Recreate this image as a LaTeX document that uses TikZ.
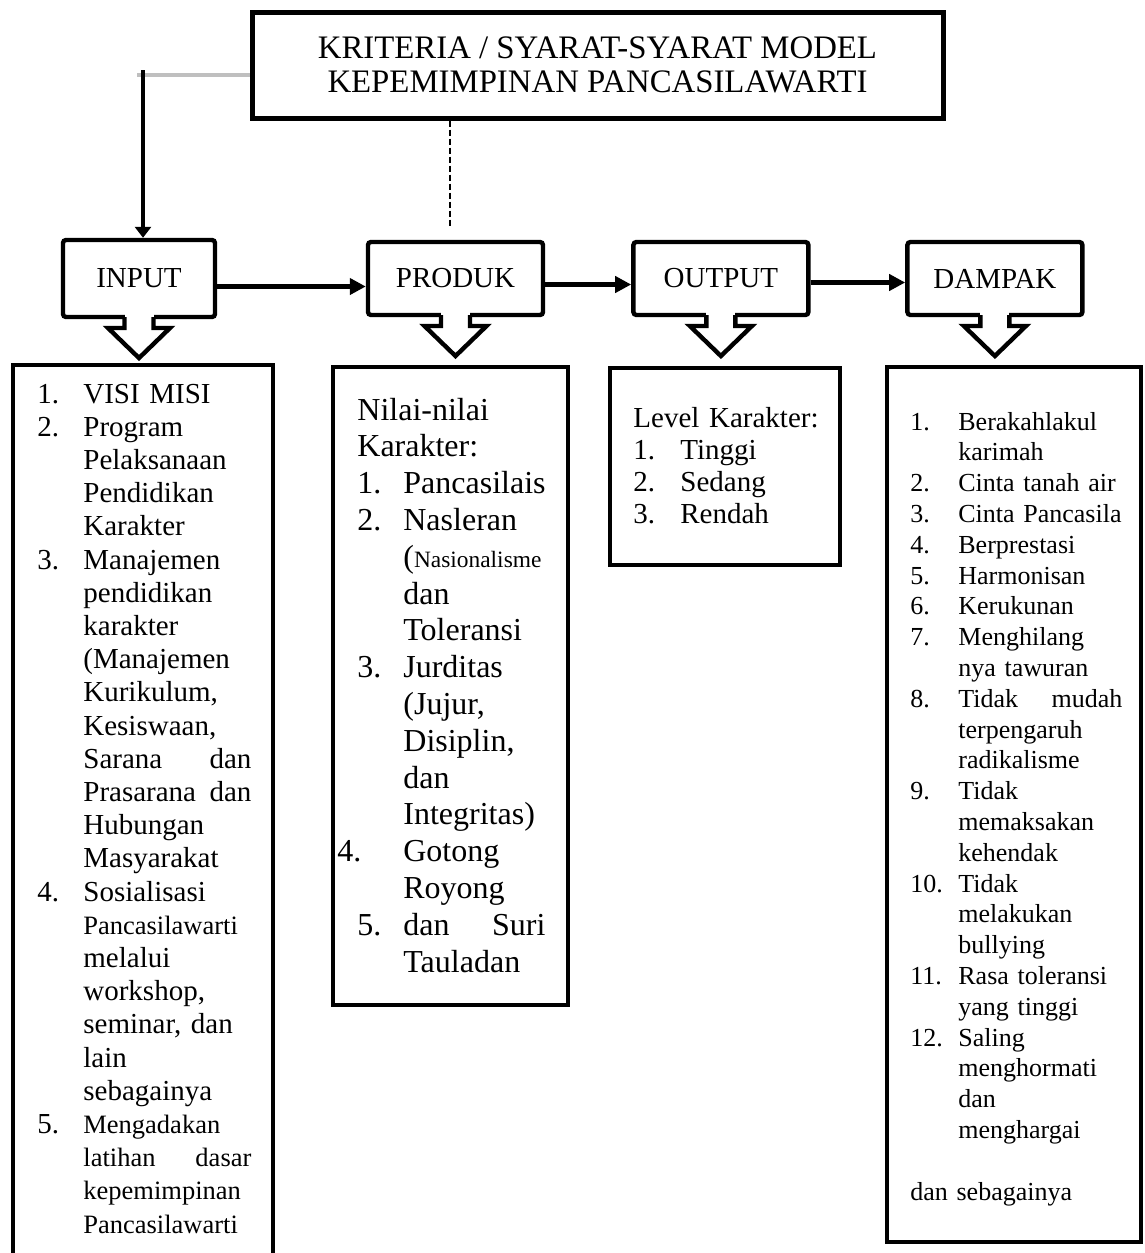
\documentclass[tikz,border=0pt]{standalone}
\usepackage{fontspec}
\setmainfont{Liberation Serif}
\usetikzlibrary{positioning,arrows.meta}

\newlength\numwd
\newlength\colwd
\newcommand\itemline[2]{\makebox[\numwd][l]{#1}#2}
\newcommand\contline[1]{\hspace*{\numwd}#1}
\newcommand\fullline[2]{\hspace*{\numwd}\makebox[\colwd][l]{#1\hfill#2}}
\newcommand\smallsize{\fontsize{13.25pt}{15pt}\selectfont}
\newcommand\dropdown[1]{%
  \fill[white] ([xshift=-7.25pt,yshift=2.6pt]#1.south) rectangle ([xshift=7.25pt,yshift=-5pt]#1.south);
  \draw[line width=2.2pt] ([xshift=-7.25pt,yshift=1.1pt]#1.south) -- ++(0,11) -- ++(-16.5,0)
    -- ++(31,30) -- ++(31,-30) -- ++(-16.5,0) -- ++(0,-11);}

\tikzset{
  topbox/.style={draw, line width=2.2pt, rounded corners=1.5pt, inner sep=0pt,
    minimum width=87.5pt, minimum height=36.5pt, font=\fontsize{14.5pt}{17pt}\selectfont},
  listbox/.style={draw, line width=2.3pt, inner sep=0pt, outer sep=0pt, anchor=north west},
  listtext/.style={anchor=base west, inner sep=0pt, align=left},
  flow/.style={line width=2.5pt, -{Triangle[length=8pt,width=8pt]}}
}

\begin{document}
\begin{tikzpicture}[x=0.5pt,y=-0.5pt]
        \useasboundingbox (0,0) rectangle (1145,1253);
        \node[draw, line width=2.5pt, minimum width=345.5pt, minimum height=53pt, align=center,
          font=\fontsize{16.4pt}{17pt}\selectfont] (title) at (597.5,65)
          {KRITERIA / SYARAT-SYARAT MODEL\\KEPEMIMPINAN PANCASILAWARTI};
        \node[topbox, minimum width=76pt, minimum height=38.5pt] (input) at (139,278.5) {INPUT};
        \node[topbox, right=74.3pt of input] (produk) {PRODUK};
        \node[topbox, right=43pt of produk] (output) {OUTPUT};
        \node[topbox, right=47.3pt of output] (dampak) {DAMPAK};
        \coordinate (bend) at (143,75);
        \coordinate (dashend) at (450,227);
        \draw[gray!50, line width=1.6pt] (title.west |- bend) -- ([xshift=-3pt]bend);
        \draw[line width=2pt, -{Triangle[length=5.5pt,width=8pt]}] ([yshift=2.5pt]bend) -- (bend |- input.north);
        \draw[line width=0.6pt, dash pattern=on 3pt off 1.5pt] (title.south -| dashend) -- (dashend);
        \draw[flow] ([yshift=-4pt]input.east) -- ([yshift=-4pt]produk.west);
        \draw[flow] ([yshift=-3pt]produk.east) -- ([yshift=-3pt]output.west);
        \draw[flow] ([yshift=-2pt]output.east) -- ([yshift=-2pt]dampak.west);
        \dropdown{input}
        \dropdown{produk}
        \dropdown{output}
        \dropdown{dampak}
        \node[listbox, minimum width=130pt, minimum height=450pt] (inputbox) at (13,365) {};
        \node[listbox, minimum width=117.5pt, minimum height=319pt] (produkbox) at (333,367) {};
        \node[listbox, minimum width=115pt, minimum height=98.5pt] (outputbox) at (610,368) {};
        \node[listbox, minimum width=127pt, minimum height=437.5pt] (dampakbox) at (887,367) {};
        \node[listtext, text width=112pt, font=\fontsize{14.5pt}{16.6pt}\selectfont] (inputlist) at (37,403)
          {\setlength\numwd{23pt}\setlength\colwd{84pt}%
          \itemline{1.}{VISI MISI}\\
          \itemline{2.}{Program}\\
          \contline{Pelaksanaan}\\
          \contline{Pendidikan}\\
          \contline{Karakter}\\
          \itemline{3.}{Manajemen}\\
          \contline{pendidikan}\\
          \contline{karakter}\\
          \contline{(Manajemen}\\
          \contline{Kurikulum,}\\
          \contline{Kesiswaan,}\\
          \fullline{Sarana}{dan}\\
          \fullline{Prasarana}{dan}\\
          \contline{Hubungan}\\
          \contline{Masyarakat}\\
          \itemline{4.}{Sosialisasi}\\
          \contline{{\smallsize Pancasilawarti}}\\
          \contline{melalui}\\
          \contline{workshop,}\\
          \contline{seminar, dan}\\
          \contline{lain}\\
          \contline{sebagainya}\\
          \itemline{5.}{{\smallsize Mengadakan}}\\
          \fullline{\smallsize latihan}{\smallsize dasar}\\
          \contline{{\smallsize kepemimpinan}}\\
          \contline{{\smallsize Pancasilawarti}}};
        \node[listtext, text width=105pt, font=\fontsize{16pt}{18.4pt}\selectfont] (produklist) at (357,420)
          {\setlength\numwd{23pt}\setlength\colwd{71pt}%
          Nilai-nilai\\
          Karakter:\\
          \itemline{1.}{Pancasilais}\\
          \itemline{2.}{Nasleran}\\
          \contline{({\fontsize{11.7pt}{14pt}\selectfont Nasionalisme}}\\
          \contline{dan}\\
          \contline{Toleransi}\\
          \itemline{3.}{Jurditas}\\
          \contline{(Jujur,}\\
          \contline{Disiplin,}\\
          \contline{dan}\\
          \contline{Integritas)}\\
          \hspace*{-10pt}\makebox[33pt][l]{4.}Gotong\\
          \contline{Royong}\\
          \itemline{5.}{\makebox[\colwd][l]{dan\hfill Suri}}\\
          \contline{Tauladan}};
        \node[listtext, text width=100pt, font=\fontsize{14.5pt}{16pt}\selectfont] (outputlist) at (633,427)
          {\setlength\numwd{23.5pt}%
          Level Karakter:\\
          \itemline{1.}{Tinggi}\\
          \itemline{2.}{Sedang}\\
          \itemline{3.}{Rendah}};
        \node[listtext, text width=112pt, font=\fontsize{13pt}{15.4pt}\selectfont] (dampaklist) at (910,430)
          {\setlength\numwd{24pt}\setlength\colwd{82pt}%
          \itemline{1.}{Berakahlakul}\\
          \contline{karimah}\\
          \itemline{2.}{Cinta tanah air}\\
          \itemline{3.}{Cinta Pancasila}\\
          \itemline{4.}{Berprestasi}\\
          \itemline{5.}{Harmonisan}\\
          \itemline{6.}{Kerukunan}\\
          \itemline{7.}{Menghilang}\\
          \contline{nya tawuran}\\
          \itemline{8.}{\makebox[\colwd][l]{Tidak\hfill mudah}}\\
          \contline{terpengaruh}\\
          \contline{radikalisme}\\
          \itemline{9.}{Tidak}\\
          \contline{memaksakan}\\
          \contline{kehendak}\\
          \itemline{10.}{Tidak}\\
          \contline{melakukan}\\
          \contline{bullying}\\
          \itemline{11.}{Rasa toleransi}\\
          \contline{yang tinggi}\\
          \itemline{12.}{Saling}\\
          \contline{menghormati}\\
          \contline{dan}\\
          \contline{menghargai}\\[15.4pt]
          dan sebagainya};
    \end{tikzpicture}
\end{document}
